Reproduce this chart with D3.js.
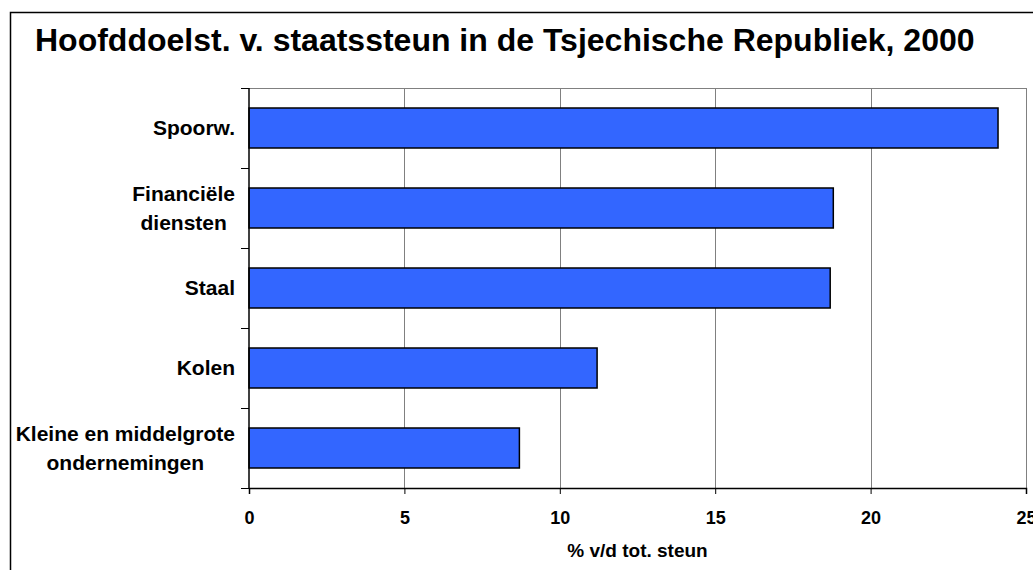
<!DOCTYPE html>
<html lang="nl">
<head>
<meta charset="UTF-8"/>
<title>Hoofddoelst. v. staatssteun</title>
<script src="https://d3js.org/d3.v7.min.js"></script>
<style>
    body { margin: 0; background: #fff; }
    text { font-family: "Liberation Sans", Arial, sans-serif; font-weight: bold; fill: #000; }
</style>
</head>
<body>
<svg width="1033" height="570"></svg>
<script>
// data
var categories = ["Spoorw.", "Financiële\ndiensten", "Staal", "Kolen", "Kleine en middelgrote\nondernemingen"];
var values = [24.1, 18.8, 18.7, 11.2, 8.7];
var xTicks = [0, 5, 10, 15, 20, 25];
var title = "Hoofddoelst. v. staatssteun in de Tsjechische Republiek, 2000";
var xTitle = "% v/d tot. steun";

var svg = d3.select("svg");
var plotL = 249, plotR = 1026, plotT = 88, plotB = 488;

// outer frame (runs off the picture on right and bottom)
svg.append("rect")
    .attr("x", 10.5).attr("y", 12.5)
    .attr("width", 1100).attr("height", 600)
    .attr("fill", "none").attr("stroke", "#000").attr("stroke-width", 1.5);

svg.append("text")
    .attr("x", 35).attr("y", 51)
    .style("font-size", "32px")
    .text(title);

var x = d3.scaleLinear().domain([0, 25]).range([plotL, plotR]);
var y = d3.scaleBand().domain(categories).range([plotT, plotB])
    .paddingInner(0.5).paddingOuter(0.25);

// gridlines
svg.append("g").selectAll("line")
    .data(xTicks.slice(1))
    .enter().append("line")
    .attr("x1", function(d) { return Math.round(x(d)) + 0.5; })
    .attr("x2", function(d) { return Math.round(x(d)) + 0.5; })
    .attr("y1", plotT).attr("y2", plotB)
    .attr("stroke", "#808080").attr("stroke-width", 1);

// top border
svg.append("line")
    .attr("x1", plotL).attr("x2", plotR)
    .attr("y1", plotT + 0.5).attr("y2", plotT + 0.5)
    .attr("stroke", "#808080");

// bars
svg.append("g").selectAll("rect")
    .data(values)
    .enter().append("rect")
    .attr("x", x(0))
    .attr("y", function(d, i) { return y(categories[i]); })
    .attr("width", function(d) { return x(d) - x(0); })
    .attr("height", y.bandwidth())
    .attr("fill", "#3366ff")
    .attr("stroke", "#000")
    .attr("stroke-width", 1.5);

// x axis
var xAxis = svg.append("g")
    .attr("transform", "translate(0," + plotB + ")")
    .call(d3.axisBottom(x).tickValues(xTicks).tickSize(6).tickPadding(17));
xAxis.select(".domain").attr("stroke", "#000").attr("stroke-width", 1.5);
xAxis.selectAll(".tick line").attr("stroke", "#000");
xAxis.selectAll("text")
    .style("font-size", "18px")
    .style("font-family", "'Liberation Sans', Arial, sans-serif")
    .style("font-weight", "bold");

svg.append("text")
    .attr("x", (plotL + plotR) / 2).attr("y", 557)
    .attr("text-anchor", "middle")
    .style("font-size", "19px")
    .text(xTitle);

// y axis line and ticks at the category borders
svg.append("line")
    .attr("x1", plotL).attr("x2", plotL)
    .attr("y1", plotT).attr("y2", plotB)
    .attr("stroke", "#000").attr("stroke-width", 1.5);
svg.append("g").selectAll("line")
    .data(d3.range(categories.length + 1))
    .enter().append("line")
    .attr("x1", plotL - 8).attr("x2", plotL)
    .attr("y1", function(i) { return plotT + i * y.step() + 0.5; })
    .attr("y2", function(i) { return plotT + i * y.step() + 0.5; })
    .attr("stroke", "#000");

// category labels, lines centred in a block that is right aligned
var lineH = 29;
categories.forEach(function(c) {
    var lines = c.split("\n");
    var cy = y(c) + y.bandwidth() / 2;
    var g = svg.append("g");
    var t = g.selectAll("text")
        .data(lines)
        .enter().append("text")
        .attr("text-anchor", "middle")
        .style("font-size", "21px")
        .attr("y", function(d, i) { return cy + 7 + (i - (lines.length - 1) / 2) * lineH; })
        .text(function(d) { return d; });
    var w = d3.max(t.nodes(), function(n) { return n.getComputedTextLength(); });
    t.attr("x", 235 - w / 2);
});
</script>
</body>
</html>
